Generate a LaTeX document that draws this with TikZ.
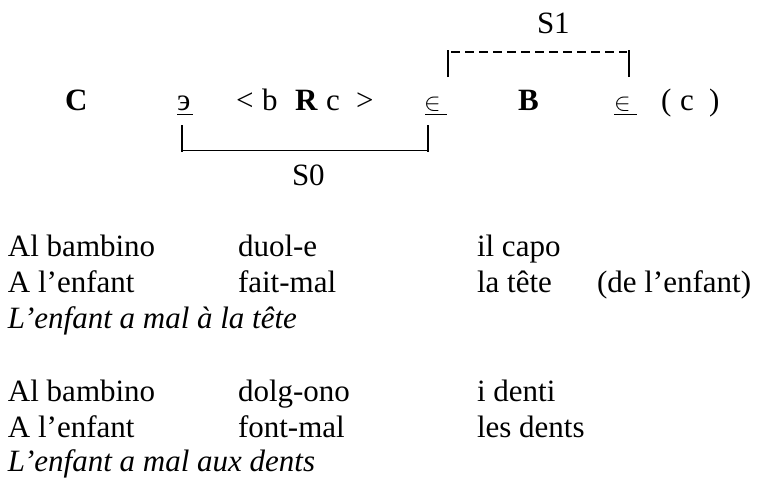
\documentclass[tikz,border=0pt]{standalone}
\usepackage{fontspec}
\setmainfont{Liberation Serif}
\newfontfamily\cyrfont{Liberation Serif}
\usetikzlibrary{calc}
\begin{document}
\begin{tikzpicture}[x=1pt,y=-1pt,
  every node/.style={inner sep=0pt,outer sep=0pt,anchor=base west,font=\fontsize{31}{37}\selectfont},
  elem/.style={font=\fontsize{34}{37}\selectfont},
  bar/.style={line width=1.8pt},
  uline/.style={line width=1.3pt},
  solidline/.style={line width=0.9pt},
  dashline/.style={line width=1.2pt,dash pattern=on 9pt off 5pt}]
\useasboundingbox (0,0) rectangle (758,479);
% top formula
\node (C) at (65,110) {\textbf{C}};
\node (ee) at (177,110) {\cyrfont э};
\node (lt) at (236,110) {<};
\node (b) at (262,110) {b};
\node (R) at (295,110) {\textbf{R}};
\node (c1) at (326,110) {c};
\node (gt) at (356,110) {>};
\node[elem] (in1) at (424,110) {$\in$};
\node (B) at (518,110) {\textbf{B}};
\node[elem] (in2) at (614,110) {$\in$};
\node (lp) at (661,110) {(};
\node (c2) at (680,110) {c};
\node (rp) at (709,110) {)};
\node (S1) at (537,33) {S1};
\node (S0) at (292,185) {S0};
% underlines
\draw[uline] (177,114.5) -- (193,114.5);
\draw[uline] (425,114.5) -- (447,114.5);
\draw[uline] (614,114.5) -- (637,114.5);
% S1 dashed bracket
\coordinate (s1l) at (448,77);
\coordinate (s1r) at (629,77);
\draw[bar] (s1l) -- (448,50);
\draw[bar] (s1r) -- (629,50);
\draw[dashline] (451,52) -- (627,52);
% S0 bracket
\coordinate (s0l) at (182,125);
\coordinate (s0r) at (428,125);
\draw[bar] (s0l) -- (182,152);
\draw[bar] (s0r) -- (428,152);
\draw[solidline] (183,150.5) -- (427,150.5);
% examples group 1
\node (a1) at (8,256) {Al bambino};
\node (a2) at (238,256) {duol-e};
\node (a3) at (477,256) {il capo};
\node (b1) at (8,292.5) {A l’enfant};
\node (b2) at (238,292.5) {fait-mal};
\node (b3) at (477,292.5) {la tête};
\node (b4) at (597,292.5) {(de l’enfant)};
\node (i1) at (8,328.5) {\itshape L’enfant a mal à la tête};
% examples group 2
\node (d1) at (8,401) {Al bambino};
\node (d2) at (238,401) {dolg-ono};
\node (d3) at (477,401) {i denti};
\node (e1) at (8,437) {A l’enfant};
\node (e2) at (238,437) {font-mal};
\node (e3) at (477,437) {les dents};
\node (i2) at (8,471) {\itshape L’enfant a mal aux dents};
\end{tikzpicture}
\end{document}
